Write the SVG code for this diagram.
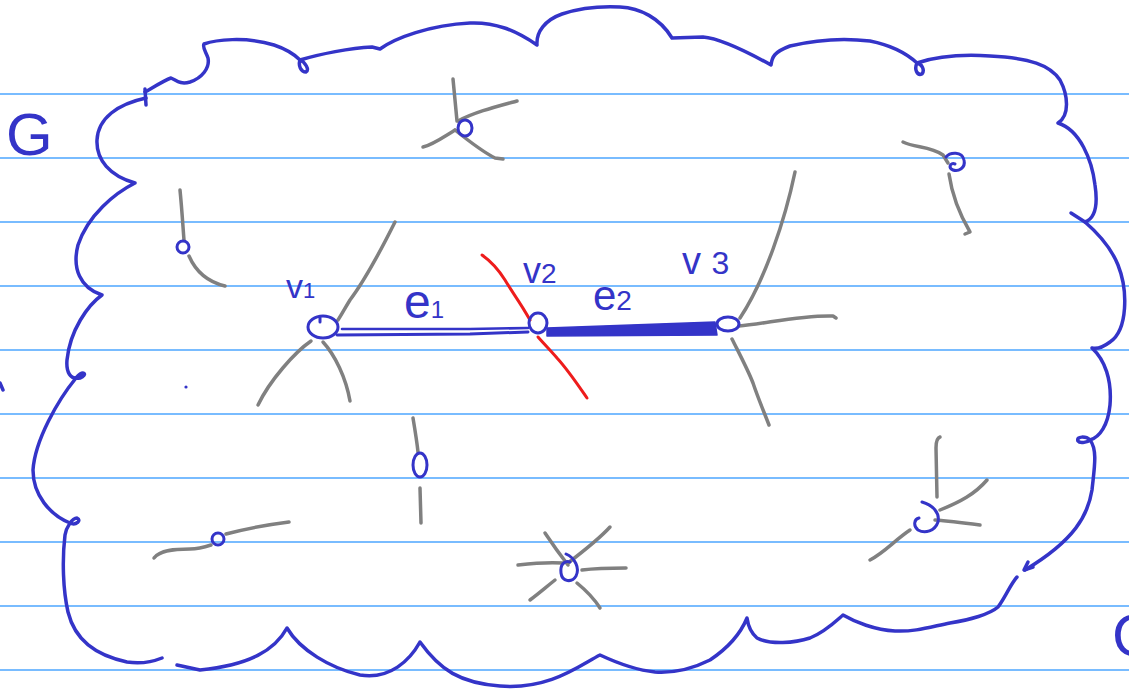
<svg xmlns="http://www.w3.org/2000/svg" width="1129" height="692" viewBox="0 0 1129 692">
<style>
.rule{stroke:#4da6ff;stroke-width:1.6;fill:none}
.blue{stroke:#3434c8;stroke-width:3.5;fill:none;stroke-linecap:round;stroke-linejoin:round}
.node{stroke:#3434c8;stroke-width:3;fill:none;stroke-linecap:round}
.gray{stroke:#808080;stroke-width:3.5;fill:none;stroke-linecap:round;stroke-linejoin:round}
.red{stroke:#ee1c1c;stroke-width:3;fill:none;stroke-linecap:round;stroke-linejoin:round}
.lbl{font-family:"Liberation Sans",Arial,sans-serif;fill:#3434c8}
</style>
<rect width="1129" height="692" fill="#ffffff"/>
<g id="ruling">
<line class="rule" x1="0" y1="94" x2="1129" y2="94"/>
<line class="rule" x1="0" y1="158" x2="1129" y2="158"/>
<line class="rule" x1="0" y1="222" x2="1129" y2="222"/>
<line class="rule" x1="0" y1="286" x2="1129" y2="286"/>
<line class="rule" x1="0" y1="350" x2="1129" y2="350"/>
<line class="rule" x1="0" y1="414" x2="1129" y2="414"/>
<line class="rule" x1="0" y1="478" x2="1129" y2="478"/>
<line class="rule" x1="0" y1="542" x2="1129" y2="542"/>
<line class="rule" x1="0" y1="606" x2="1129" y2="606"/>
<line class="rule" x1="0" y1="670" x2="1129" y2="670"/>
</g>
<g id="cloud">
<path class="blue" d="M145,89 L146,105"/>
<path class="blue" d="M146,98 C118,104 98,118 97,140 C96,160 110,176 135,183 C115,193 88,215 78,245 C72,268 80,288 102,295 C88,305 70,330 67,360 C66,372 70,380 80,378 C88,375 84,369 76,378 C58,400 35,440 33,470 C33,495 50,515 70,523 C76,526 82,520 77,518 C72,518 66,528 65,535 C62,560 63,590 68,612 C75,640 95,655 127,662 C140,664 152,662 162,658"/>
<path class="blue" d="M145,92 C152,88 165,80 171,78 C176,80 180,85 190,82 C202,78 210,68 208,58 C206,52 202,47 204,44 C215,40 245,36 274,45 C286,49 295,55 300,60 C298,66 301,72 306,72 C310,70 305,62 300,60 C320,54 350,48 372,47 L380,49 C395,38 430,25 470,23 C495,22 515,30 537,45 C536,32 545,20 562,14 C580,8 600,6 620,7 C640,8 660,18 672,38 L703,37 C715,38 735,45 771,65 C772,57 774,52 790,46 C815,40 845,38 870,41 C890,45 905,52 917,63 C914,69 917,76 922,74 C925,70 922,64 917,63 C935,57 960,54 990,56 C1030,58 1050,65 1060,80 C1068,95 1070,115 1058,123 C1080,130 1092,160 1095,185 C1098,205 1096,218 1085,222 C1100,235 1112,250 1118,265 C1128,290 1128,330 1110,342 C1102,348 1096,349 1092,348 C1105,360 1112,380 1110,405 C1108,425 1100,437 1090,440 C1086,436 1076,436 1078,441 C1080,444 1088,442 1090,440 C1098,450 1094,470 1092,490 C1088,515 1075,540 1025,570"/>
<path class="blue" d="M1071,213 L1085,222"/>
<path class="blue" d="M1028,562 L1024,570 L1033,567"/>
<path class="blue" d="M1017,577 C1010,585 1005,598 998,607 C990,614 970,620 950,623 C930,627 915,632 895,631 C875,630 855,622 843,615 C835,622 825,632 810,638 C795,643 770,645 757,638 C750,632 748,625 747,618 C740,635 725,650 710,660 C690,670 670,673 655,672 C635,670 615,662 600,655 C580,665 550,690 500,686 C460,683 440,670 420,642 C410,660 390,680 360,675 C330,668 300,650 287,628 C275,650 250,665 200,670 L177,665"/>
<path class="blue" d="M0,383 L3,390"/>
<circle cx="186" cy="387" r="1.6" fill="#3434c8"/>
</g>
<g id="connectors">
<!-- node A (183,246) -->
<path class="gray" d="M180,190 C182,210 183,228 184,240"/>
<path class="gray" d="M189,256 C196,272 208,282 225,286"/>
<!-- node B (465,128) -->
<path class="gray" d="M453,79 L455,100 L457,121"/>
<path class="gray" d="M458,121 C475,112 495,107 517,101"/>
<path class="gray" d="M455,130 C442,138 432,145 423,147"/>
<path class="gray" d="M455,130 C470,142 483,152 495,158 L503,159"/>
<!-- node top right (955,162) -->
<path class="gray" d="M903,142 C915,148 930,146 943,155 L948,163"/>
<path class="gray" d="M949,174 C952,195 960,215 970,232 L965,234"/>
<!-- v1 -->
<path class="gray" d="M395,222 C380,252 365,280 350,300 C345,308 342,314 338,320"/>
<path class="gray" d="M311,341 C295,352 270,380 258,405"/>
<path class="gray" d="M323,342 C335,355 346,378 350,401"/>
<!-- v3 -->
<path class="gray" d="M795,172 C785,220 765,280 740,318"/>
<path class="gray" d="M739,326 C765,324 800,315 833,316 L836,318"/>
<path class="gray" d="M732,339 C740,355 748,370 753,383 C758,398 764,412 769,425"/>
<!-- node (420,465) -->
<path class="gray" d="M413,418 C415,430 417,442 418,452"/>
<path class="gray" d="M420,488 L421,523"/>
<!-- node (218,538) -->
<path class="gray" d="M154,558 C160,550 175,549 190,549 C198,549 205,547 211,545"/>
<path class="gray" d="M226,534 C245,529 265,525 289,522"/>
<!-- star node (569,567) -->
<path class="gray" d="M518,565 C535,563 550,562 563,563"/>
<path class="gray" d="M545,533 C553,545 561,556 568,565"/>
<path class="gray" d="M568,563 C585,550 600,538 610,527"/>
<path class="gray" d="M582,570 C598,568 612,568 626,568"/>
<path class="gray" d="M555,580 C545,588 538,594 530,600"/>
<path class="gray" d="M577,583 C588,592 595,600 600,608"/>
<!-- node (925,518) -->
<path class="gray" d="M940,437 C937,438 936,442 936,448 L937,497"/>
<path class="gray" d="M940,510 C960,502 975,494 987,480"/>
<path class="gray" d="M935,520 C950,521 965,523 980,525"/>
<path class="gray" d="M910,530 C895,540 885,552 870,560"/>
<!-- red cut line through v2 -->
<path class="red" d="M482,255 C492,262 500,272 505,280 C512,292 520,302 530,320"/>
<path class="red" d="M538,337 C545,345 552,352 557,358 C568,370 578,385 587,398"/>
<!-- e1 -->
<path class="blue" d="M342,329 L470,329 L528,328" style="stroke-width:2.6"/>
<path class="blue" d="M337,335 L470,334 L528,332" style="stroke-width:3"/>
<!-- e2 -->
<path d="M547,328 L715,322 L717,335 L547,336 Z" fill="#3434c8" stroke="#3434c8" stroke-width="1.5" stroke-linejoin="round"/>
</g>
<g id="nodeA"><circle class="node" cx="183" cy="247" r="6"/></g>
<g id="nodeB"><ellipse class="node" cx="465" cy="128" rx="7" ry="8"/></g>
<g id="nodeTR"><path class="node" d="M946,157 C950,152 962,151 964,160 C966,168 958,172 953,170 C948,168 950,162 955,164"/></g>
<g id="v1"><ellipse class="node" cx="323" cy="327" rx="15" ry="11"/><path class="node" d="M320,318 L320,322"/></g>
<g id="v2"><ellipse class="node" cx="538" cy="323" rx="9" ry="10"/></g>
<g id="v3"><ellipse class="node" cx="728" cy="324" rx="11" ry="7"/></g>
<g id="nodeC"><ellipse class="node" cx="420" cy="465" rx="7" ry="12"/></g>
<g id="nodeD"><circle class="node" cx="218" cy="539" r="6"/></g>
<g id="nodeStar"><path class="node" d="M566,554 C575,558 580,568 576,576 C572,583 562,582 561,573 C560,565 564,560 570,562"/></g>
<g id="nodeE"><path class="node" d="M922,502 C933,505 940,513 938,522 C935,531 925,534 918,530 C913,526 914,519 919,518"/></g>
<g id="labels">
<text class="lbl" x="6" y="155" font-size="60">G</text>
<text class="lbl" x="286" y="298" font-size="34">v<tspan font-size="22">1</tspan></text>
<text class="lbl" x="404" y="318" font-size="48">e<tspan font-size="24">1</tspan></text>
<text class="lbl" x="523" y="283" font-size="36">v<tspan font-size="28">2</tspan></text>
<text class="lbl" x="593" y="310" font-size="42">e<tspan font-size="28">2</tspan></text>
<text class="lbl" x="682" y="274" font-size="38">v <tspan font-size="32">3</tspan></text>
<text class="lbl" x="1112" y="656" font-size="60">G</text>
</g>
</svg>
